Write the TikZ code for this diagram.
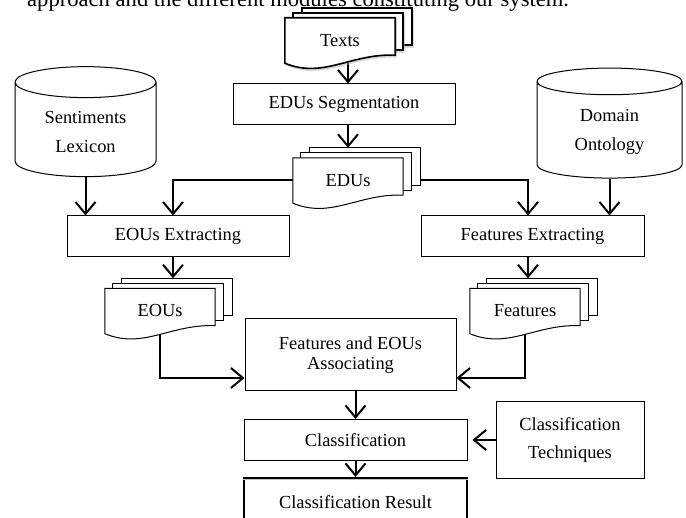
\documentclass[tikz,border=0pt]{standalone}
\usepackage{fontspec}
\setmainfont{Liberation Serif}
\usetikzlibrary{calc, arrows.meta, shapes.geometric, shadows}
\pgfdeclarelayer{links}
\pgfdeclarelayer{pages}
\pgfsetlayers{links,pages,main}

\tikzset{
  proc/.style={draw, line width=1pt, rectangle, align=center, inner sep=0pt},
  docs/.style={rectangle, minimum width=110pt, minimum height=45pt, inner sep=0pt},
  store/.style={draw, line width=1pt, cylinder, shape border rotate=90, aspect=0.35, align=center},
  arr/.style={line width=2pt, -{Straight Barb[length=12pt,width=20pt]}},
}

% a stack of three pages behind a document node
\newcommand{\docpages}[2][]{%
  \filldraw[fill=white, #1] ($(#2.north west)+(17,10)$) rectangle ($(#2.south east)+(17,18)$);
  \filldraw[fill=white, #1] ($(#2.north west)+(8,5)$) rectangle ($(#2.south east)+(8,13)$);
  \filldraw[fill=white, #1] (#2.north west) -- (#2.south west)
    .. controls ($(#2.south west)!0.35!(#2.south east)+(0,-16)$) and ($(#2.south west)!0.6!(#2.south east)+(0,10)$) .. ($(#2.south east)+(0,8)$)
    -- (#2.north east) -- cycle;
  \coordinate (#2-top) at ($(#2.north)+(0,10)$);
}

\begin{document}
\begin{tikzpicture}[x=1pt, y=1pt, font=\fontsize{18.4}{28.5}\selectfont]
\useasboundingbox (0,0) rectangle (686,518);
\clip (0,0) rectangle (686,518);

\node[anchor=base west, inner sep=0pt, font=\fontsize{22.6}{26}\selectfont] (caption) at (27,511) {approach and the different modules constituting our system.};

\node[docs] (texts) at (340,477.5) {Texts};
\node[proc, minimum width=222pt, minimum height=41pt] (seg) at (344,413.5) {EDUs Segmentation};
\node[docs] (edus) at (348,337.5) {EDUs};
\node[store, minimum width=141pt, minimum height=110pt] (lex) at (85.5,386) {Sentiments\\Lexicon};
\node[store, minimum width=145pt, minimum height=110pt] (onto) at (609.5,386) {Domain\\Ontology};
\node[proc, minimum width=222pt, minimum height=41pt] (eoux) at (178,281.5) {EOUs Extracting};
\node[proc, minimum width=223pt, minimum height=41pt] (featx) at (532.5,281.5) {Features Extracting};
\node[docs] (eous) at (160,207) {EOUs};
\node[docs] (feats) at (525,207) {Features};
\node[proc, minimum width=211pt, minimum height=72pt, font=\fontsize{18.4}{20}\selectfont] (assoc) at (350.5,163) {Features and EOUs\\Associating};
\node[proc, minimum width=223pt, minimum height=41pt] (clsf) at (355.5,78) {Classification};
\node[proc, minimum width=148pt, minimum height=77pt] (tech) at (570,78) {Classification\\Techniques};
\node[proc, line width=2pt, minimum width=223pt, minimum height=48pt] (result) at (355.5,16) {Classification Result};
\draw[gray!50, line width=1pt] ([yshift=-3pt]result.north west) -- ([yshift=-3pt]result.north east);

\begin{pgfonlayer}{pages}
\docpages[line width=1.6pt, drop shadow={shadow xshift=1.5pt, shadow yshift=-2.5pt, fill=gray!60}]{texts}
\docpages[line width=1pt]{edus}
\docpages[line width=1pt]{eous}
\docpages[line width=1pt]{feats}
\end{pgfonlayer}

\begin{pgfonlayer}{links}
\draw[arr] (texts.south -| edus.north) -- (seg.north -| edus.north);
\draw[arr] (seg.south -| edus.north) -- (edus-top);
\draw[arr] (edus.west) -| ([xshift=-5pt]eoux.north);
\draw[arr] (edus.east) -| ([xshift=-4.5pt]featx.north);
\draw[arr] (lex.south) -- (lex.south |- eoux.north);
\draw[arr] (onto.south) -- (onto.south |- featx.north);
\draw[arr] ([xshift=-5pt]eoux.south) -- ([xshift=-5pt]eoux.south |- eous-top);
\draw[arr] ([xshift=-4.5pt]featx.south) -- ([xshift=-4.5pt]featx.south |- feats-top);
\draw[arr] (eous.south) |- ([yshift=-23pt]assoc.west);
\draw[arr] (feats.south) |- ([yshift=-23pt]assoc.east);
\draw[arr] (clsf.north |- assoc.south) -- (clsf.north);
\draw[arr] (tech.west) -- ([xshift=5pt]clsf.east);
\draw[arr] (clsf.south) -- (result.north);
\end{pgfonlayer}
\end{tikzpicture}
\end{document}
